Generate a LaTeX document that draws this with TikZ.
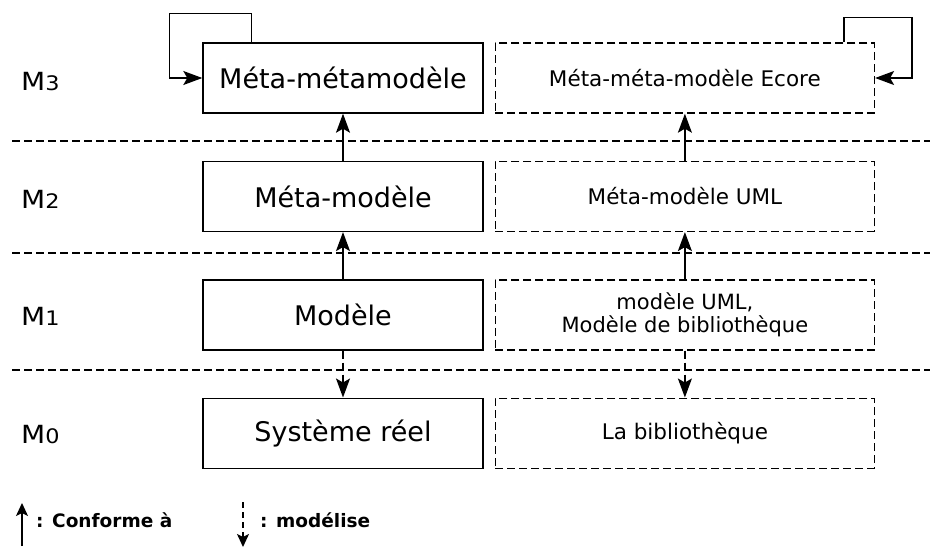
\documentclass[tikz,border=0pt]{standalone}
\usepackage{graphicx}
\usepackage{fontspec}
\setmainfont{DejaVu Sans}
\usetikzlibrary{positioning,arrows.meta}

\tikzset{
    concept/.style={draw, line width=1.4pt, minimum width=280pt, minimum height=70pt,
        inner sep=0pt, font=\fontsize{27}{32}\selectfont},
    instance/.style={draw, line width=1.4pt, dash pattern=on 8pt off 4pt, minimum width=379pt,
        minimum height=70pt, inner sep=0pt, align=center, font=\fontsize{21.5}{24}\selectfont},
    conform/.style={line width=1.4pt, -{Stealth[length=19pt,width=14pt,inset=4pt]}},
    represent/.style={conform, dash pattern=on 8pt off 4pt},
    layer/.style={line width=1.4pt, dash pattern=on 8pt off 4pt},
    levelname/.style={anchor=base west, inner sep=0pt, font=\fontsize{25}{28}\selectfont},
    legendtext/.style={anchor=base west, inner sep=0pt, font=\fontsize{18.5}{22}\selectfont\bfseries}
}
\newcommand{\lvlname}[1]{\scalebox{1.12}[1]{M{\fontsize{20}{22}\selectfont #1}}}

\begin{document}
\begin{tikzpicture}[x=1pt, y=-1pt]
    \useasboundingbox (0,0) rectangle (932,547);

    % left column
    \node[concept] (m3) at (343,78) {Méta-métamodèle};
    \node[concept, below=47pt of m3] (m2) {Méta-modèle};
    \node[concept, below=47pt of m2] (m1) {Modèle};
    \node[concept, below=47pt of m1] (m0) {Système réel};

    % right column
    \node[instance, right=11pt of m3] (ecore) {Méta-méta-modèle Ecore};
    \node[instance, right=11pt of m2] (uml) {Méta-modèle UML};
    \node[instance, right=11pt of m1, font=\fontsize{21}{23}\selectfont] (biblimodel) {modèle UML,\\Modèle de bibliothèque};
    \node[instance, right=11pt of m0] (bibli) {La bibliothèque};

    % level names
    \node[levelname] (l3) at (21,90) {\lvlname{3}};
    \node[levelname] (l2) at (21,208) {\lvlname{2}};
    \node[levelname] (l1) at (21,325) {\lvlname{1}};
    \node[levelname] (l0) at (21,443) {\lvlname{0}};

    % separators
    \draw[layer] (12,141) -- (930,141);
    \draw[layer] (12,253) -- (930,253);
    \draw[layer] (12,370) -- (930,370);

    % conformance
    \draw[conform] (m2) -- (m3);
    \draw[conform] (m1) -- (m2);
    \draw[conform] (uml) -- (ecore);
    \draw[conform] (biblimodel) -- (uml);
    \draw[conform] ([xshift=49pt]m3.north west) |- ([xshift=-33pt,yshift=29pt]m3.north west) |- (m3.west);
    \draw[conform] ([xshift=-31pt]ecore.north east) |- ([xshift=37pt,yshift=25pt]ecore.north east) |- (ecore.east);

    % representation
    \draw[represent] (m1) -- (m0);
    \draw[represent] (biblimodel) -- (bibli);

    % legend
    \coordinate (c1) at (22,546);
    \coordinate (c2) at (22,503);
    \draw[line width=1.4pt, -{Stealth[length=13pt,width=12pt,inset=3pt]}] (c1) -- (c2);
    \node[legendtext] (conftext) at (36,527) {: Conforme à};
    \coordinate (r1) at (243,502);
    \coordinate (r2) at (243,547);
    \draw[line width=1.4pt, dash pattern=on 6pt off 4pt, -{Stealth[length=13pt,width=12pt,inset=3pt]}] (r1) -- (r2);
    \node[legendtext] (reprtext) at (260,527) {: modélise};
\end{tikzpicture}
\end{document}
